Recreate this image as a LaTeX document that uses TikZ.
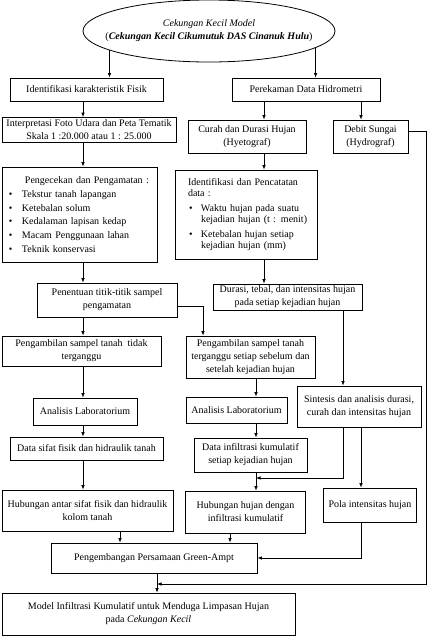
\documentclass[tikz,border=0pt]{standalone}
\usepackage{fontspec}
\setmainfont{Liberation Serif}
\usepackage{tikz}
\usetikzlibrary{shapes.geometric,arrows.meta}
\tikzset{
  box/.style={draw=black, line width=0.8pt, inner sep=0pt, align=center, font=\fontsize{10pt}{13pt}\selectfont},
  sz/.style 2 args={minimum width=#1, minimum height=#2},
  oval/.style={ellipse, draw=black, line width=0.8pt, inner sep=0pt},
  lst/.style={draw=black, line width=0.8pt, inner ysep=0pt, align=left},
  arr/.style={draw=black, line width=0.8pt, -{Latex[length=4.5pt,width=3.6pt]}},
}

\begin{document}
\begin{tikzpicture}[x=1pt,y=-1pt]
  \useasboundingbox (0,0) rectangle (430,638);
  \coordinate (xL) at (83,0);
  \coordinate (xH) at (264,0);
  \coordinate (xP) at (361,0);
  \coordinate (xG) at (203,0);
  \coordinate (xM) at (256,0);
  \coordinate (xR) at (343,0);
  \coordinate (xF) at (120,0);
  \coordinate (xK) at (230,0);
  \coordinate (xC) at (157,0);
  \coordinate (xE) at (426,0);
  \coordinate (yJ) at (0,478);
  \coordinate (yB) at (0,584);

  \node[oval, minimum width=252pt, minimum height=62pt] (ell) at (209,31) {};
  \node[align=center, font=\fontsize{10pt}{13pt}\selectfont] (ellt) at (ell.center)
    {\itshape Cekungan Kecil Model\\({\bfseries\itshape Cekungan Kecil Cikumutuk DAS Cinanuk Hulu})};

  \node[box, sz={153pt}{23pt}] (idf) at (86.5,89.5) {Identifikasi karakteristik Fisik};
  \node[box, sz={148pt}{23pt}] (rek) at (306,89.5) {Perekaman Data Hidrometri};
  \node[box, sz={174pt}{25pt}] (itp) at (89,130) {Interpretasi Foto Udara dan Peta Tematik\\Skala 1 :20.000 atau 1 : 25.000};
  \node[box, sz={118pt}{33pt}] (chd) at (247,136.5) {Curah dan Durasi Hujan\\(Hyetograf)};
  \node[box, sz={75pt}{33pt}] (dbt) at (370.5,136.5) {Debit Sungai\\(Hydrograf)};
  \node[lst, inner xsep=7pt, text width=141pt, minimum height=95pt,
        font=\fontsize{10pt}{13.8pt}\selectfont] (cek) at (79.5,214.5)
    {\hspace*{16pt}Pengecekan dan Pengamatan :\\
     \textbullet\hspace*{9.5pt}Tekstur tanah lapangan\\
     \textbullet\hspace*{9.5pt}Ketebalan solum\\
     \textbullet\hspace*{9.5pt}Kedalaman lapisan kedap\\
     \textbullet\hspace*{9.5pt}Macam Penggunaan lahan\\
     \textbullet\hspace*{9.5pt}Teknik konservasi};
  \node[lst, inner xsep=8pt, text width=126pt, minimum height=89pt,
        font=\fontsize{10pt}{11.3pt}\selectfont] (ipc) at (246,214.5)
    {\hspace*{5pt}Identifikasi dan Pencatatan\\
     \hspace*{5pt}data :\\[3.7pt]
     \hspace*{6pt}\textbullet\hspace*{8.5pt}Waktu hujan pada suatu\\
     \hspace*{18pt}kejadian hujan (t : menit)\\[3.7pt]
     \hspace*{6pt}\textbullet\hspace*{8.5pt}Ketebalan hujan setiap\\
     \hspace*{18pt}kejadian hujan (mm)};
  \node[box, sz={140pt}{34pt}] (pnt) at (107,300) {Penentuan titik-titik sampel\\pengamatan};
  \node[box, sz={149pt}{26pt}] (drs) at (287.5,297) {Durasi, tebal, dan intensitas hujan\\pada setiap kejadian hujan};
  \node[box, sz={159pt}{30pt}] (pst) at (81.5,351) {Pengambilan sampel tanah\ \ tidak\\terganggu};
  \node[box, sz={129pt}{42pt}] (pgt) at (250.5,357) {Pengambilan sampel tanah\\terganggu setiap sebelum dan\\setelah kejadian hujan};
  \node[box, sz={104pt}{27pt}] (lab1) at (85,411.5) {Analisis Laboratorium};
  \node[box, sz={101pt}{26pt}] (lab2) at (236.5,410) {Analisis Laboratorium};
  \node[box, sz={124pt}{41pt}] (sin) at (359,406.5) {Sintesis dan analisis durasi,\\curah dan intensitas hujan};
  \node[box, sz={153pt}{23pt}] (dsf) at (86.5,448.5) {Data sifat fisik dan hidraulik tanah};
  \node[box, sz={113pt}{34pt}] (dif) at (250.5,455) {Data infiltrasi kumulatif\\setiap kejadian hujan};
  \node[box, sz={171pt}{41pt}] (has) at (87.5,510.5) {Hubungan antar sifat fisik dan hidraulik\\kolom tanah};
  \node[box, sz={120pt}{42pt}] (hhi) at (245.5,512) {Hubungan hujan dengan\\infiltrasi kumulatif};
  \node[box, sz={93pt}{34pt}] (pol) at (370,505) {Pola intensitas hujan};
  \node[box, sz={206pt}{30pt}] (ga) at (154,558) {Pengembangan Persamaan Green-Ampt};
  \node[box, sz={293pt}{42pt}] (mdl) at (148.5,614) {Model Infiltrasi Kumulatif untuk Menduga Limpasan Hujan\\pada \textit{Cekungan Kecil}};

  \draw[arr] (ell.191) -- (ell.191 |- idf.north);
  \draw[arr] (ell.351) -- (ell.351 |- rek.north);
  \draw[arr] (idf.south -| xL) -- (itp.north -| xL);
  \draw[arr] (rek.south -| xH) -- (chd.north -| xH);
  \draw[arr] (rek.south -| xP) -- (dbt.north -| xP);
  \draw[arr] (itp.south -| xL) -- (cek.north -| xL);
  \draw[arr] (chd.south -| xH) -- (ipc.north -| xH);
  \draw[arr] (cek.south -| xL) -- (pnt.north -| xL);
  \draw[arr] (ipc.south -| xH) -- (drs.north -| xH);
  \draw[arr] (pnt.south -| xL) -- (pst.north -| xL);
  \draw[arr] (pnt.-5) -| (xG |- pgt.north);
  \draw[arr] (drs.south -| xR) -- (sin.north -| xR);
  \draw[arr] (pst.south -| xL) -- (lab1.north -| xL);
  \draw[arr] (pgt.south -| xM) -- (lab2.north -| xM);
  \draw[arr] (lab1.south -| xL) -- (dsf.north -| xL);
  \draw[arr] (lab2.south -| xM) -- (dif.north -| xM);
  \draw[arr] (dsf.south -| xL) -- (has.north -| xL);
  \draw[arr] (dif.south -| xM) -- (hhi.north -| xM);
  \draw[arr] (sin.south -| xR) |- (xM |- yJ);
  \draw[arr] (sin.south -| xP) -- (pol.north -| xP);
  \draw[arr] (has.south -| xF) -- (ga.north -| xF);
  \draw[arr] (hhi.south -| xK) -- (ga.north -| xK);
  \draw[arr] (pol.south -| xP) |- (ga.east);
  \draw[arr] (ga.south -| xC) -- (mdl.north -| xC);
  \draw[arr] (dbt.8) -| (xE |- yB) -- (xC |- yB);
\end{tikzpicture}
\end{document}
